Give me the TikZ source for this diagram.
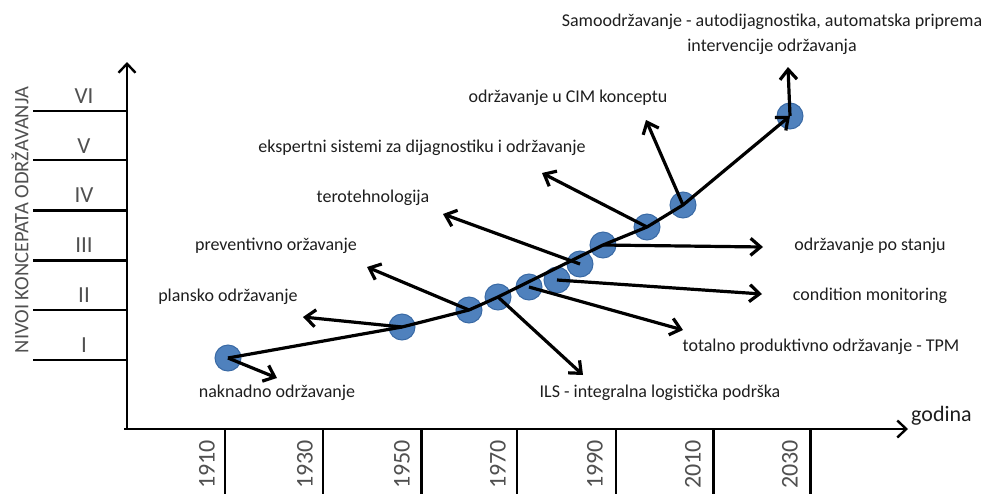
\documentclass[tikz,border=0pt]{standalone}
\usepackage{fontspec}
\setmainfont{Carlito}
\usetikzlibrary{arrows.meta}
\definecolor{dotblue}{HTML}{4F81BD}
\definecolor{dotedge}{HTML}{3A6AA5}
\definecolor{txt}{HTML}{1E1E1E}
\definecolor{axtxt}{HTML}{505050}
\begin{document}
\begin{tikzpicture}[x=1pt,y=-1pt,
  dot/.style={circle, fill=dotblue, draw=dotedge, line width=1pt, minimum size=26pt, inner sep=0pt},
  arr/.style={line width=3.2pt, line join=round, -{Straight Barb[length=10pt,width=17pt]}},
  mainline/.style={line width=3.2pt, line join=round, -{Straight Barb[length=10pt,width=17pt]}},
  axisarrow/.style={line width=2.4pt, -{Straight Barb[length=9pt,width=17pt]}},
  levthin/.style={line width=1.6pt},
  levthick/.style={line width=3pt},
  lbl/.style={inner sep=0pt, text=txt, font=\fontsize{18}{25}\selectfont},
  roman/.style={inner sep=0pt, text=axtxt, font=\fontsize{23}{26}\selectfont},
  year/.style={inner sep=0pt, text=axtxt, rotate=90, anchor=east, font=\fontsize{24}{26}\selectfont}
]
\useasboundingbox (0,0) rectangle (988,493);

% axes
\coordinate (O) at (127,429);
\coordinate (Ox) at (124,429);
\coordinate (ytip) at (127,62);
\coordinate (xtip) at (908,429);
\draw[axisarrow] (O) -- (ytip);
\draw[axisarrow] (Ox) -- (xtip);
\node[anchor=west, inner sep=0pt, text=txt, font=\fontsize{22}{24}\selectfont] (godina) at (911,416) {godina};

% level lines
\foreach \yy in {111,160,310,360} { \draw[levthin] (33,\yy) -- (127,\yy); }
\foreach \yy in {210,260} { \draw[levthick] (33,\yy) -- (127,\yy); }
\node[roman] (r6) at (84,96) {VI};
\node[roman] (r5) at (84,146) {V};
\node[roman] (r4) at (84,195) {IV};
\node[roman] (r3) at (84,245) {III};
\node[roman] (r2) at (84,295) {II};
\node[roman] (r1) at (84,345) {I};
\node[rotate=90, inner sep=0pt, text=axtxt, font=\fontsize{20.5}{22}\selectfont] (ylab) at (20,220) {NIVOI KONCEPATA ODRŽAVANJA};

% year ticks
\foreach \xx in {225,323,517,616} { \draw[levthin] (\xx,429) -- (\xx,494); }
\foreach \xx in {421,713,810} { \draw[levthick] (\xx,429) -- (\xx,494); }
\node[year] (y1910) at (207,440) {1910};
\node[year] (y1930) at (305,440) {1930};
\node[year] (y1950) at (402,440) {1950};
\node[year] (y1970) at (498,440) {1970};
\node[year] (y1990) at (595,440) {1990};
\node[year] (y2010) at (693,440) {2010};
\node[year] (y2030) at (790,440) {2030};

% dots
\node[dot] (d1) at (228,358) {};
\node[dot] (d2) at (402,327) {};
\node[dot] (d3) at (469,310) {};
\node[dot] (d4) at (498,297) {};
\node[dot] (d5) at (529,287) {};
\node[dot] (d6) at (557,280) {};
\node[dot] (d7) at (580,264) {};
\node[dot] (d8) at (603,245) {};
\node[dot] (d9) at (647,227) {};
\node[dot] (d10) at (683,205) {};
\node[dot] (d11) at (790,116) {};

% arrow tips
\coordinate (t1) at (277,378);
\coordinate (t2) at (303,317);
\coordinate (t3) at (367,267);
\coordinate (t4) at (583,375);
\coordinate (t5) at (683,330);
\coordinate (t6) at (762,294);
\coordinate (t7) at (443,214);
\coordinate (t8) at (763,247);
\coordinate (t9) at (542,173);
\coordinate (t10) at (646,120);
\coordinate (t11) at (788,67);

% main curve
\draw[mainline] (d1.center) -- (d2.center) -- (d3.center) -- (d4.center) -- (d8.center) -- (d9.center) -- (d10.center) -- (d11.center);

% concept arrows
\draw[arr] (d1.center) -- (t1);
\draw[arr] (d2.center) -- (t2);
\draw[arr] (d3.center) -- (t3);
\draw[arr] (d4.center) -- (t4);
\draw[arr] (d5.center) -- (t5);
\draw[arr] (d6.center) -- (t6);
\draw[arr] (d7.center) -- (t7);
\draw[arr] (d8.center) -- (t8);
\draw[arr] (d9.center) -- (t9);
\draw[arr] (d10.center) -- (t10);
\draw[arr] (d11.center) -- (t11);

% labels
\node[lbl] (l1) at (277,393) {naknadno održavanje};
\node[lbl] (l2) at (228,297) {plansko održavanje};
\node[lbl] (l3) at (276,246) {preventivno oržavanje};
\node[lbl] (l4) at (660,393) {ILS - integralna logistička podrška};
\node[lbl] (l5) at (821,347) {totalno produktivno održavanje - TPM};
\node[lbl] (l6) at (870,296) {condition monitoring};
\node[lbl] (l7) at (373,198) {terotehnologija};
\node[lbl] (l8) at (870,246) {održavanje po stanju};
\node[lbl] (l9) at (422,148) {ekspertni sistemi za dijagnostiku i održavanje};
\node[lbl] (l10) at (568,98) {održavanje u CIM konceptu};
\node[lbl, align=center] (l11) at (772,34) {Samoodržavanje - autodijagnostika, automatska priprema\\intervencije održavanja};
\end{tikzpicture}
\end{document}
